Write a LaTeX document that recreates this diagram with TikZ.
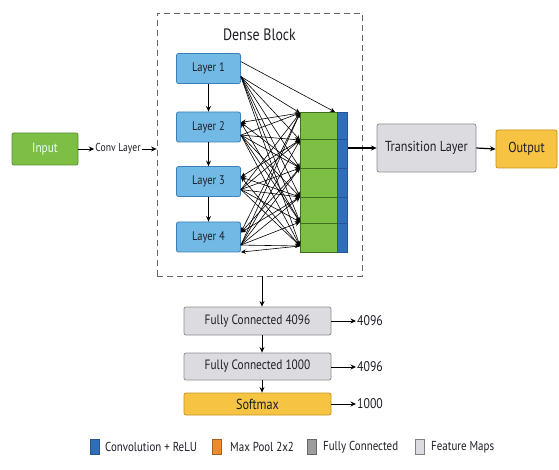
\documentclass[tikz,border=0pt]{standalone}
\usepackage{fontspec}
\setmainfont{PT Sans}[FakeStretch=0.84]
\usetikzlibrary{arrows.meta}
\definecolor{layerfill}{HTML}{73B9E6}
\definecolor{layerdraw}{HTML}{3A7FB5}
\definecolor{fmgreen}{HTML}{7DBF45}
\definecolor{fmgreendraw}{HTML}{3F6E22}
\definecolor{fmblue}{HTML}{2F6FB3}
\definecolor{fmbluedraw}{HTML}{23568E}
\definecolor{boxgray}{HTML}{DCDCE0}
\definecolor{boxgraydraw}{HTML}{8E8E92}
\definecolor{outyellow}{HTML}{F6C343}
\definecolor{outyellowdraw}{HTML}{C7951C}
\definecolor{legorange}{HTML}{EE8A2A}
\definecolor{leggray}{HTML}{9C9C9C}
\definecolor{txt}{HTML}{1E1E28}
\tikzset{
  arr/.style={-{Stealth[length=5.5pt,width=5pt]}, line width=0.9pt, black},
  thin arr/.style={-{Stealth[length=5pt,width=4.5pt]}, line width=0.6pt, black},
  layerbox/.style={draw=layerdraw, fill=layerfill, line width=0.8pt, rounded corners=2pt,
    minimum width=64pt, minimum height=30pt, inner sep=0pt, font=\fontsize{12.5}{14}\selectfont, text=txt},
  graybox/.style={draw=boxgraydraw, fill=boxgray, line width=0.8pt, rounded corners=2pt,
    inner sep=0pt, font=\fontsize{13.5}{15}\selectfont, text=txt},
  greenbox/.style={draw=fmgreendraw!60!fmgreen, fill=fmgreen, line width=0.8pt, rounded corners=2pt,
    inner sep=0pt, font=\fontsize{13.5}{15}\selectfont, text=white!92!green},
  yellowbox/.style={draw=outyellowdraw, fill=outyellow, line width=0.8pt, rounded corners=2pt,
    inner sep=0pt, font=\fontsize{14.5}{16}\selectfont, text=txt},
  fmcell/.style={draw=fmgreendraw, fill=fmgreen, line width=0.8pt, minimum width=37pt, inner sep=0pt},
  fmstripe/.style={draw=fmbluedraw, fill=fmblue, line width=0.6pt, minimum width=10pt, inner sep=0pt},
  lbl/.style={font=\fontsize{14}{16}\selectfont, text=txt, inner sep=1pt},
  legsq/.style={minimum width=9pt, minimum height=15pt, inner sep=0pt, line width=0.5pt},
  legtxt/.style={font=\fontsize{13}{15}\selectfont, text=txt, anchor=west, inner sep=0pt}
}
\begin{document}
\begin{tikzpicture}[x=1pt,y=-1pt]
\useasboundingbox (0,0) rectangle (559,470);
\fill[white] (0,0) rectangle (559,470);

% dense block frame
\node[draw=black!60, dash pattern=on 6pt off 4pt, line width=0.8pt,
  minimum width=205pt, minimum height=263pt, inner sep=0pt] (db) at (259.5,144.5) {};
\node[font=\fontsize{16.5}{18}\selectfont, text=txt] (dbt) at (259.5,35) {Dense Block};

% layers
\node[layerbox] (l1) at (208.5,68.5) {Layer 1};
\node[layerbox] (l2) at (208.5,127) {Layer 2};
\node[layerbox] (l3) at (208.5,181.5) {Layer 3};
\node[layerbox] (l4) at (208.5,237) {Layer 4};

% feature map stack
\node[fmcell, minimum height=27pt] (g1) at (318.5,125.5) {};
\node[fmcell, minimum height=29pt] (g2) at (318.5,153.5) {};
\node[fmcell, minimum height=29pt] (g3) at (318.5,182.5) {};
\node[fmcell, minimum height=26pt] (g4) at (318.5,210) {};
\node[fmcell, minimum height=29pt] (g5) at (318.5,237.5) {};
\node[fmstripe, minimum height=27pt, anchor=west] (b1) at (g1.east) {};
\node[fmstripe, minimum height=29pt, anchor=west] (b2) at (g2.east) {};
\node[fmstripe, minimum height=29pt, anchor=west] (b3) at (g3.east) {};
\node[fmstripe, minimum height=26pt, anchor=west] (b4) at (g4.east) {};
\node[fmstripe, minimum height=29pt, anchor=west] (b5) at (g5.east) {};

% connection points on the stack's left side
\coordinate (B0) at (300,113);
\coordinate (B1) at (300,140);
\coordinate (B2) at (300,168);
\coordinate (B3) at (300,197);
\coordinate (B4) at (300,222);
\coordinate (B5) at (300,246);
\coordinate (Btop) at (335,112);

% vertical arrows between layers
\draw[arr] (l1.south) -- (l2.north);
\draw[arr] (l2.south) -- (l3.north);
\draw[arr] (l3.south) -- (l4.north);

% dense connections: forward
\draw[thin arr] (l1.12) -- (Btop);
\foreach \l in {l1,l2,l3,l4}{
  \foreach \b in {B0,B1,B2,B3,B4,B5}{
    \draw[thin arr] (\l.-14) -- (\b);
  }
}
% dense connections: backward
\foreach \b in {B0,B2,B4}{\draw[thin arr] (\b) -- (l2.8);}
\foreach \b in {B1,B3,B5}{\draw[thin arr] (\b) -- (l3.8);}
\foreach \b in {B0,B2,B3}{\draw[thin arr] (\b) -- (l4.8);}
\draw[thin arr] (B5) -- (l4.-25);

% input side
\node[greenbox, minimum width=66pt, minimum height=32pt] (in) at (45,149) {Input};
\node[lbl, font=\fontsize{11.5}{13}\selectfont] (conv) at (118,149) {Conv Layer};
\draw[arr] (in.east) -- (conv.west);
\draw[arr] (conv.east) -- (conv.east -| db.west);

% transition and output
\node[graybox, minimum width=99pt, minimum height=48pt, font=\fontsize{14.5}{16}\selectfont] (tr) at (426.5,148) {Transition Layer};
\node[yellowbox, minimum width=61pt, minimum height=38pt] (out) at (526.5,149) {Output};
\draw[arr, line width=1.2pt] (b2.east |- tr.west) -- (tr.west);
\draw[arr, line width=1.2pt] (tr.east) -- (out.west);

% fully connected part
\node[graybox, minimum width=147pt, minimum height=28pt] (fc1) at (257.5,321) {Fully Connected 4096};
\node[graybox, minimum width=147pt, minimum height=27pt] (fc2) at (257.5,366.5) {Fully Connected 1000};
\node[yellowbox, minimum width=147pt, minimum height=22pt] (sm) at (257.5,404) {Softmax};
\coordinate (dbb) at (262,276);
\draw[arr] (dbb) -- (dbb |- fc1.north);
\draw[arr] (fc1.south -| dbb) -- (fc2.north -| dbb);
\draw[arr] (fc2.south -| dbb) -- (sm.north -| dbb);
\node[lbl, anchor=west] (o1) at (356,321) {4096};
\node[lbl, anchor=west] (o2) at (356,367) {4096};
\node[lbl, anchor=west] (o3) at (356,404) {1000};
\draw[arr] (fc1.east) -- (o1.west);
\draw[arr] (fc2.east |- o2.west) -- (o2.west);
\draw[arr] (sm.east) -- (o3.west);

% legend
\node[legsq, draw=fmbluedraw, fill=fmblue] (k1) at (94.5,447) {};
\node[legtxt] (t1) at (105,447) {Convolution + ReLU};
\node[legsq, draw=legorange!70!black, fill=legorange] (k2) at (216.5,447) {};
\node[legtxt] (t2) at (230,447) {Max Pool 2x2};
\node[legsq, draw=black!60, fill=leggray] (k3) at (311.5,447) {};
\node[legtxt] (t3) at (323,447) {Fully Connected};
\node[legsq, draw=black!50, fill=boxgray] (k4) at (419.5,447) {};
\node[legtxt] (t4) at (431,447) {Feature Maps};
\end{tikzpicture}
\end{document}
